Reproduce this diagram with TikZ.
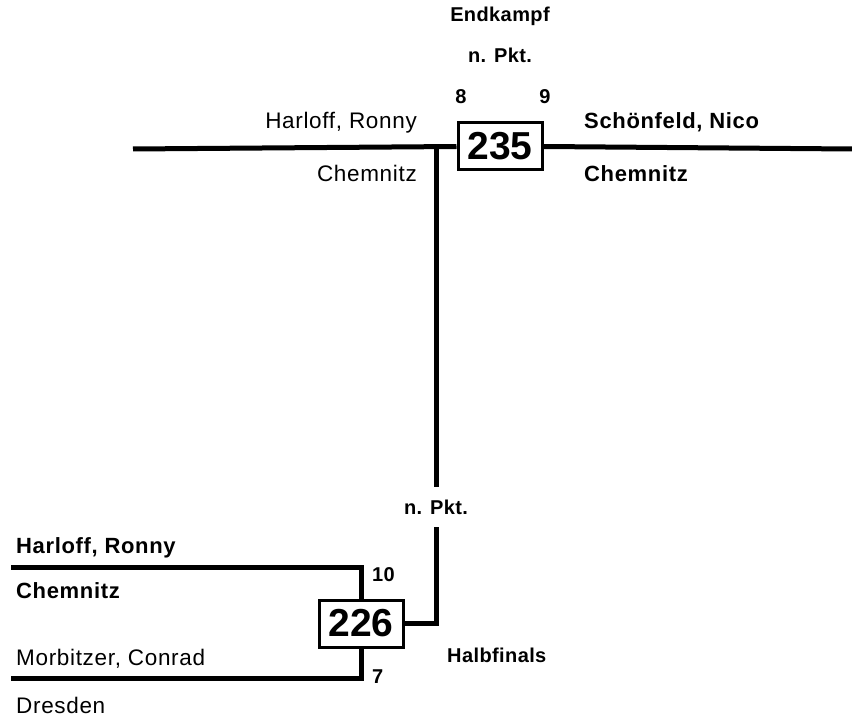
\documentclass[tikz,border=0pt]{standalone}
\usepackage{fontspec}
\setmainfont{Liberation Sans}
\newfontfamily\wideplain[LetterSpace=3]{Liberation Sans}
\newfontfamily\widebold[LetterSpace=3]{Liberation Sans}
\newfontfamily\tagbold[LetterSpace=2]{Liberation Sans}
\usetikzlibrary{positioning}
\tikzstyle{bar} = [line width=5pt]
\tikzstyle{matchbox} = [rectangle, draw=black, line width=3pt, minimum width=84pt, minimum height=47pt, inner sep=0pt, font=\bfseries\fontsize{39}{41}\selectfont]
\tikzstyle{player} = [inner sep=0pt, font=\wideplain\fontsize{22.5}{26}\selectfont]
\tikzstyle{winner} = [inner sep=0pt, font=\widebold\bfseries\fontsize{22}{26}\selectfont]
\tikzstyle{tag} = [inner sep=0pt, font=\tagbold\bfseries\fontsize{20}{24}\selectfont]

\begin{document}
\begin{tikzpicture}[x=1pt, y=-1pt]
      \useasboundingbox (0,0) rectangle (852,722);

      % Endkampf
      \node (final) [matchbox] at (500,146.5) {235};
      \node (finalTitle) [tag] at (500,22) [anchor=base] {Endkampf};
      \node (finalPkt) [tag] at (500,63) [anchor=base] {n. Pkt.};
      \node (finalPtsL) [tag] at (461,104) [anchor=base] {8};
      \node (finalPtsR) [tag] at (545,104) [anchor=base] {9};
      \node (finalNameL) [player] at (417,129) [anchor=base east] {Harloff, Ronny};
      \node (finalClubL) [player] at (417,182) [anchor=base east] {Chemnitz};
      \node (finalNameR) [winner] at (584,129) [anchor=base west] {Schönfeld, Nico};
      \node (finalClubR) [winner] at (584,182) [anchor=base west] {Chemnitz};
      \coordinate (finalL) at (133,149);
      \coordinate (finalR) at (852,149);
      \coordinate (finalJoin) at (436,149);
      \draw [bar] (finalL) -- (final.west);
      \draw [bar] (final.east) -- (finalR);

      % Halbfinals
      \node (semi) [matchbox] at (361,623.5) {226};
      \node (semiPkt) [tag, minimum height=40pt] at (436,507) {n. Pkt.};
      \node (semiTitle) [tag] at (447,662) [anchor=base west] {Halbfinals};
      \node (semiPtsA) [tag] at (372,581) [anchor=base west] {10};
      \node (semiPtsB) [tag] at (372,683) [anchor=base west] {7};
      \node (semiNameA) [winner] at (16,553) [anchor=base west] {Harloff, Ronny};
      \node (semiClubA) [winner] at (16,598) [anchor=base west] {Chemnitz};
      \node (semiNameB) [player] at (16,665) [anchor=base west] {Morbitzer, Conrad};
      \node (semiClubB) [player] at (16,713) [anchor=base west] {Dresden};
      \coordinate (semiA) at (11,567);
      \coordinate (semiB) at (11,678);
      \draw [bar] (semiA) -| (semi.north);
      \draw [bar] (semi.south) |- (semiB);

      \draw [bar] (finalJoin) -- (semiPkt.north);
      \draw [bar] (semiPkt.south) |- (semi.east);
\end{tikzpicture}
\end{document}
